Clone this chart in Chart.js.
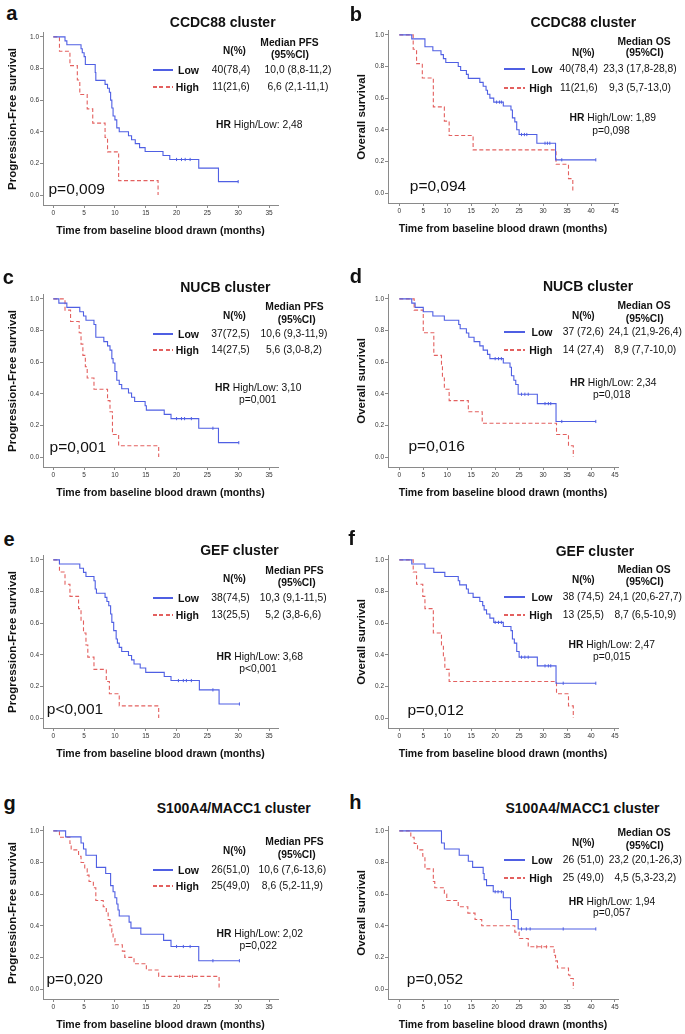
<!DOCTYPE html>
<html><head><meta charset="utf-8">
<script src="https://cdn.jsdelivr.net/npm/chart.js@4.4.1/dist/chart.umd.min.js"></script>
<style>
html,body{margin:0;padding:0;background:#fff;}
#wrap{position:relative;width:685px;height:1034px;overflow:hidden;font-family:"Liberation Sans",Arial,Helvetica,sans-serif;color:#111;}
canvas{position:absolute;}
.t{position:absolute;white-space:nowrap;line-height:1;}
.ln{position:absolute;height:2px;}
</style></head><body><div id="wrap"></div>
<script>
// ---------- tick labels ----------
const yTicks = [0, 0.2, 0.4, 0.6, 0.8, 1.0];
const pfsXTicks = [0, 5, 10, 15, 20, 25, 30, 35];
const osXTicks = [0, 5, 10, 15, 20, 25, 30, 35, 40, 45];
const groups = ['Low', 'High'];

// ---------- (a) CCDC88 PFS ----------
const pfsCCDC88Low = [[0,1],[1.9,0.975],[2.2,0.95],[4.5,0.925],[4.7,0.90],[5.0,0.875],[5.2,0.825],[6.8,0.775],[6.9,0.725],[8.4,0.70],[8.8,0.675],[9.1,0.65],[9.3,0.60],[9.5,0.55],[9.7,0.50],[10.0,0.475],[10.3,0.425],[10.7,0.40],[12.2,0.375],[12.7,0.35],[13.3,0.325],[14.0,0.30],[14.9,0.275],[17.8,0.25],[18.9,0.225],[23.6,0.17],[26.8,0.085],[30.0,0.085]];
const pfsCCDC88High = [[0,1],[1.0,0.909],[2.7,0.818],[3.9,0.727],[4.3,0.636],[5.5,0.545],[6.4,0.455],[8.4,0.364],[8.8,0.273],[10.6,0.091],[17.0,0]];
const pfsCCDC88LowCens = [[20.0,0.225],[20.8,0.225],[21.4,0.225],[22.2,0.225],[30.0,0.085]];
const pfsCCDC88HighCens = [];
// ---------- (b) CCDC88 OS ----------
const osCCDC88Low = [[0,1],[2.6,0.975],[5.35,0.925],[7.0,0.90],[8.7,0.875],[9.2,0.85],[9.7,0.825],[12.3,0.80],[12.8,0.775],[14.0,0.75],[14.4,0.725],[16.8,0.70],[17.5,0.675],[18.1,0.65],[18.4,0.625],[18.9,0.60],[19.7,0.575],[21.7,0.55],[23.3,0.525],[23.6,0.475],[24.1,0.45],[24.5,0.40],[25.0,0.37],[28.7,0.315],[32.6,0.21],[41.0,0.21]];
const osCCDC88High = [[0,1],[2.9,0.909],[3.6,0.818],[4.8,0.727],[7.1,0.545],[9.4,0.455],[10.4,0.364],[15.4,0.273],[32.7,0.182],[35.3,0.091],[36.2,0]];
const osCCDC88LowCens = [[20.3,0.575],[20.9,0.575],[21.3,0.575],[25.5,0.37],[26.1,0.37],[26.6,0.37],[30.4,0.315],[30.9,0.315],[31.4,0.315],[33.9,0.21],[41.0,0.21]];
const osCCDC88HighCens = [];
// ---------- (c) NUCB PFS ----------
const pfsNUCBLow = [[0,1],[0.9,0.973],[2.2,0.946],[4.3,0.919],[4.9,0.892],[5.3,0.865],[6.6,0.838],[6.9,0.757],[8.2,0.73],[8.8,0.703],[9.2,0.676],[9.5,0.622],[9.7,0.595],[10.0,0.541],[10.3,0.486],[10.7,0.459],[11.1,0.432],[12.2,0.405],[12.7,0.378],[13.2,0.351],[14.9,0.324],[15.1,0.297],[18.0,0.27],[19.1,0.243],[23.6,0.182],[26.8,0.091],[30.1,0.091]];
const pfsNUCBHigh = [[0,1],[1.9,0.929],[2.8,0.857],[4.2,0.786],[4.5,0.714],[4.8,0.643],[5.2,0.571],[5.5,0.50],[6.6,0.429],[8.8,0.357],[9.2,0.286],[9.6,0.143],[10.6,0.071],[17.1,0]];
const pfsNUCBLowCens = [[20.0,0.243],[20.8,0.243],[21.3,0.243],[22.4,0.243],[25.9,0.182],[30.1,0.091]];
const pfsNUCBHighCens = [];
// ---------- (d) NUCB OS ----------
const osNUCBLow = [[0,1],[2.6,0.973],[3.3,0.946],[5.0,0.919],[7.0,0.892],[9.4,0.865],[12.4,0.838],[12.7,0.811],[14.0,0.784],[14.5,0.757],[15.6,0.73],[16.8,0.703],[17.5,0.676],[18.4,0.649],[18.9,0.622],[21.7,0.595],[23.1,0.568],[23.4,0.514],[23.9,0.486],[24.3,0.459],[24.8,0.397],[28.8,0.338],[32.7,0.225],[41.0,0.225]];
const osNUCBHigh = [[0,1],[3.1,0.929],[5.0,0.786],[7.2,0.643],[8.8,0.571],[9.0,0.50],[9.4,0.429],[10.4,0.357],[14.4,0.286],[17.3,0.214],[32.8,0.143],[35.3,0.071],[36.3,0]];
const osNUCBLowCens = [[20.0,0.622],[20.7,0.622],[21.3,0.622],[25.5,0.397],[26.2,0.397],[26.9,0.397],[30.4,0.338],[31.1,0.338],[31.6,0.338],[33.9,0.225],[41.0,0.225]];
const osNUCBHighCens = [];
// ---------- (e) GEF PFS ----------
const pfsGEFLow = [[0,1],[1.0,0.974],[4.3,0.947],[4.9,0.921],[5.3,0.895],[6.6,0.868],[6.8,0.816],[7.0,0.789],[8.4,0.763],[8.7,0.737],[9.0,0.71],[9.3,0.658],[9.5,0.605],[9.8,0.553],[10.2,0.50],[10.4,0.474],[10.7,0.447],[11.1,0.421],[12.2,0.395],[12.7,0.368],[13.1,0.342],[14.1,0.316],[15.0,0.289],[18.0,0.263],[19.1,0.237],[23.7,0.178],[26.9,0.089],[30.2,0.089]];
const pfsGEFHigh = [[0,1],[1.0,0.923],[1.9,0.846],[2.7,0.769],[4.1,0.692],[4.5,0.615],[4.9,0.538],[5.3,0.462],[5.6,0.385],[6.6,0.308],[8.6,0.231],[9.1,0.154],[10.7,0.077],[17.1,0]];
const pfsGEFLowCens = [[20.3,0.237],[21.1,0.237],[21.6,0.237],[22.4,0.237],[25.9,0.178],[30.2,0.089]];
const pfsGEFHighCens = [];
// ---------- (f) GEF OS ----------
const osGEFLow = [[0,1],[2.6,0.974],[5.35,0.947],[7.2,0.921],[9.5,0.895],[12.3,0.868],[12.6,0.842],[14.0,0.816],[14.4,0.789],[15.4,0.763],[16.8,0.737],[17.4,0.711],[17.7,0.684],[18.2,0.658],[18.9,0.632],[19.7,0.605],[21.7,0.579],[23.3,0.553],[23.6,0.50],[24.0,0.474],[24.5,0.421],[25.0,0.385],[28.8,0.33],[32.7,0.22],[41.0,0.22]];
const osGEFHigh = [[0,1],[2.9,0.923],[3.6,0.846],[4.9,0.769],[5.35,0.692],[7.1,0.538],[8.8,0.462],[9.2,0.385],[9.5,0.308],[10.4,0.231],[32.8,0.154],[35.3,0.077],[36.3,0]];
const osGEFLowCens = [[20.0,0.605],[20.7,0.605],[21.3,0.605],[25.5,0.385],[26.2,0.385],[26.9,0.385],[30.4,0.33],[31.1,0.33],[31.6,0.33],[34.2,0.22],[41.0,0.22]];
const osGEFHighCens = [];
// ---------- (g) S100A4/MACC1 PFS ----------
const pfsS100Low = [[0,1],[2.0,0.962],[4.5,0.923],[4.9,0.885],[5.3,0.846],[7.0,0.769],[8.5,0.731],[9.3,0.654],[9.7,0.615],[10.0,0.577],[10.3,0.538],[10.5,0.50],[10.7,0.462],[12.3,0.423],[12.6,0.385],[14.2,0.346],[17.9,0.308],[19.1,0.269],[23.6,0.179],[30.2,0.179]];
const pfsS100High = [[0,1],[1.0,0.96],[2.7,0.92],[2.9,0.88],[4.1,0.84],[4.5,0.80],[5.1,0.76],[5.5,0.72],[5.8,0.68],[6.5,0.64],[6.9,0.56],[8.1,0.52],[8.6,0.48],[8.9,0.44],[9.2,0.40],[9.5,0.36],[9.7,0.32],[10.0,0.28],[11.2,0.24],[11.6,0.20],[13.1,0.16],[15.1,0.12],[17.1,0.08],[26.9,0]];
const pfsS100LowCens = [[20.0,0.269],[21.1,0.269],[22.2,0.269],[25.9,0.179],[30.2,0.179]];
const pfsS100HighCens = [[20.5,0.08],[22.6,0.08]];
// ---------- (h) S100A4/MACC1 OS ----------
const osS100Low = [[0,1],[8.8,0.923],[9.4,0.885],[12.5,0.846],[14.4,0.808],[15.3,0.769],[17.5,0.731],[17.7,0.692],[18.2,0.654],[19.6,0.615],[21.7,0.577],[23.2,0.50],[23.4,0.44],[24.8,0.38],[41.0,0.38]];
const osS100High = [[0,1],[2.4,0.96],[3.1,0.92],[3.8,0.88],[4.9,0.84],[5.35,0.76],[7.1,0.68],[7.4,0.64],[9.4,0.60],[9.9,0.56],[12.3,0.52],[14.3,0.48],[15.8,0.44],[17.2,0.40],[24.1,0.36],[25.0,0.32],[26.9,0.267],[32.3,0.213],[32.6,0.178],[33.0,0.133],[35.3,0.089],[35.6,0.067],[36.3,0]];
const osS100LowCens = [[20.0,0.615],[20.6,0.615],[21.3,0.615],[25.5,0.38],[26.5,0.38],[27.3,0.38],[34.2,0.38],[41.0,0.38]];
const osS100HighCens = [[28.7,0.267],[29.7,0.267],[30.7,0.267]];

// ---------- table texts ----------
const statsN = {
  a:['40(78,4)','11(21,6)'], b:['40(78,4)','11(21,6)'],
  c:['37(72,5)','14(27,5)'], d:['37 (72,6)','14 (27,4)'],
  e:['38(74,5)','13(25,5)'], f:['38 (74,5)','13 (25,5)'],
  g:['26(51,0)','25(49,0)'], h:['26 (51,0)','25 (49,0)']
};
const statsMedian = {
  a:['10,0 (8,8-11,2)','6,6 (2,1-11,1)'], b:['23,3 (17,8-28,8)','9,3 (5,7-13,0)'],
  c:['10,6 (9,3-11,9)','5,6 (3,0-8,2)'], d:['24,1 (21,9-26,4)','8,9 (7,7-10,0)'],
  e:['10,3 (9,1-11,5)','5,2 (3,8-6,6)'], f:['24,1 (20,6-27,7)','8,7 (6,5-10,9)'],
  g:['10,6 (7,6-13,6)','8,6 (5,2-11,9)'], h:['23,2 (20,1-26,3)','4,5 (5,3-23,2)']
};
const statsHR = {a:'2,48', b:'1,89', c:'3,10', d:'2,34', e:'3,68', f:'2,47', g:'2,02', h:'1,94'};
const statsPcox = {a:null, b:'p=0,098', c:'p=0,001', d:'p=0,018', e:'p<0,001', f:'p=0,015', g:'p=0,022', h:'p=0,057'};
const statsPlog = {a:'p=0,009', b:'p=0,094', c:'p=0,001', d:'p=0,016', e:'p<0,001', f:'p=0,012', g:'p=0,020', h:'p=0,052'};
const titles = {a:'CCDC88 cluster', b:'CCDC88 cluster', c:'NUCB cluster', d:'NUCB cluster', e:'GEF cluster', f:'GEF cluster', g:'S100A4/MACC1 cluster', h:'S100A4/MACC1 cluster'};

// ---------- styling / layout ----------
const F = '"Liberation Sans", Arial, Helvetica, sans-serif';
const BLUE = '#4f5fe3', RED = '#e3605f';
const axisCol = '#8a8a8a', tickCol = '#333';
const wrap = document.getElementById('wrap');

const panels = [
  {id:'a', col:0, Y1:36,    low:pfsCCDC88Low, high:pfsCCDC88High, lowC:pfsCCDC88LowCens, highC:pfsCCDC88HighCens,
   L:{letter:[11.7,12.8], title:[222.7,22], nh:[234.5,50.7], mh:[289.5,43], ci:[290,54.7], r1:70, r2:86.7, n:231, m:298, hr:[259.3,124.5], pc:null, pl:[76.7,188.5]}},
  {id:'b', col:1, Y1:34,    low:osCCDC88Low, high:osCCDC88High, lowC:osCCDC88LowCens, highC:osCCDC88HighCens,
   L:{letter:[355.8,13.5], title:[583.3,21.7], nh:[583.3,52.7], mh:[644,41.7], ci:[644.7,53.3], r1:69, r2:87.7, n:578.8, m:640, hr:[612.7,118.3], pc:[611,130.7], pl:[438,186]}},
  {id:'c', col:0, Y1:297.7, low:pfsNUCBLow, high:pfsNUCBHigh, lowC:pfsNUCBLowCens, highC:pfsNUCBHighCens,
   L:{letter:[8.3,276.8], title:[225.3,287.3], nh:[234.5,316], mh:[294.5,306.7], ci:[296.7,320], r1:334, r2:350, n:230.5, m:294, hr:[258.3,387.7], pc:[257.7,400], pl:[77.8,447.3]}},
  {id:'d', col:1, Y1:297.7, low:osNUCBLow, high:osNUCBHigh, lowC:osNUCBLowCens, highC:osNUCBHighCens,
   L:{letter:[355.8,275.5], title:[588,286], nh:[583.3,316], mh:[644,305.7], ci:[644.7,319.3], r1:331.7, r2:350, n:583.3, m:645.4, hr:[613.3,382.7], pc:[611.7,395], pl:[436.7,445.7]}},
  {id:'e', col:0, Y1:559.3, low:pfsGEFLow, high:pfsGEFHigh, lowC:pfsGEFLowCens, highC:pfsGEFHighCens,
   L:{letter:[9,538.8], title:[239.5,550], nh:[234.5,579.3], mh:[294.5,570.7], ci:[296.7,583.3], r1:598.3, r2:615, n:230.5, m:293.2, hr:[259.7,656.7], pc:[258,669.3], pl:[75,709.3]}},
  {id:'f', col:1, Y1:559.3, low:osGEFLow, high:osGEFHigh, lowC:osGEFLowCens, highC:osGEFHighCens,
   L:{letter:[351.7,537.8], title:[595,550.7], nh:[583.3,580], mh:[644,570], ci:[644.7,582.3], r1:596.7, r2:615.3, n:583.3, m:645.4, hr:[611.7,645], pc:[611.7,657.3], pl:[435.7,710]}},
  {id:'g', col:0, Y1:830,   low:pfsS100Low, high:pfsS100High, lowC:pfsS100LowCens, highC:pfsS100HighCens,
   L:{letter:[9.5,802.8], title:[233.7,807.7], nh:[234.5,851], mh:[294.5,842.3], ci:[296.7,855], r1:869.7, r2:886.3, n:230.5, m:292.4, hr:[259.7,933.7], pc:[258.3,946.3], pl:[74.7,979]}},
  {id:'h', col:1, Y1:830,   low:osS100Low, high:osS100High, lowC:osS100LowCens, highC:osS100HighCens,
   L:{letter:[355.3,801.8], title:[582.5,808.3], nh:[583.3,843.3], mh:[644,832.7], ci:[644.7,845.7], r1:860, r2:878.3, n:583.3, m:645.4, hr:[612,901.7], pc:[611.7,913.3], pl:[435,979]}}
];

function txt(x, y, content, size, bold, align, html) {
  const d = document.createElement('div');
  d.className = 't';
  if (html) d.innerHTML = content; else d.textContent = content;
  d.style.fontSize = size + 'px';
  d.style.fontWeight = bold ? 'bold' : 'normal';
  d.style.left = x + 'px';
  d.style.top = y + 'px';
  d.style.transform = align === 'right' ? 'translate(-100%,-50%)' : (align === 'left' ? 'translate(0,-50%)' : 'translate(-50%,-50%)');
  wrap.appendChild(d);
}
function legLine(x1, x2, y, color, dashed) {
  const d = document.createElement('div');
  d.className = 'ln';
  d.style.left = Math.round(x1) + 'px';
  d.style.width = Math.round(x2 - x1) + 'px';
  d.style.top = Math.round(y - 1) + 'px';
  d.style.background = dashed ? `repeating-linear-gradient(90deg, ${color} 0 4px, transparent 4px 6.5px)` : color;
  wrap.appendChild(d);
}
const toXY = arr => arr.map(([x, y]) => ({x, y}));

function buildPanel(p) {
  const isPFS = p.col === 0;
  const left = isPFS ? 0 : 340;
  const yW = isPFS ? 43 : 48;
  const xr = isPFS ? {min:-1.671, max:36.46, ticks:pfsXTicks} : {min:-2.358, max:45.63, ticks:osXTicks};
  const c = document.createElement('canvas');
  c.width = 300; c.height = 211;
  c.style.left = left + 'px'; c.style.top = (p.Y1 - 8) + 'px';
  c.style.width = '300px'; c.style.height = '211px';
  wrap.appendChild(c);
  const curve = (pts, col, dash) => ({data: toXY(pts), showLine:true, stepped:true, borderColor:col, backgroundColor:col,
    borderWidth:1.1, borderDash: dash, pointRadius:0, pointHoverRadius:0, fill:false, order:2});
  const cens = (pts, col) => ({data: toXY(pts), showLine:false, pointStyle:'line', rotation:90, pointRadius:1.6,
    pointBorderWidth:1, borderColor:col, backgroundColor:col, pointHoverRadius:0, order:1});
  new Chart(c, {
    type:'scatter',
    data:{datasets:[
      curve(p.low, BLUE, []), curve(p.high, RED, [4, 2.5]),
      cens(p.lowC, BLUE), cens(p.highC, RED)
    ]},
    options:{
      responsive:false, animation:false, events:[],
      layout:{padding:{left:0, right:22, top:4, bottom:0}},
      plugins:{legend:{display:false}, tooltip:{enabled:false}},
      scales:{
        x:{type:'linear', min:xr.min, max:xr.max,
           afterBuildTicks: s => { s.ticks = xr.ticks.map(v => ({value:v})); },
           afterFit: s => { s.height = 34; },
           grid:{display:true, drawOnChartArea:false, drawTicks:true, tickLength:3, color:axisCol, lineWidth:1},
           border:{display:true, color:axisCol, width:1},
           ticks:{font:{size:6.5, family:F}, color:tickCol, padding:1, maxRotation:0, autoSkip:false, callback: v => String(v)},
           title:{display:true, text:'Time from baseline blood drawn (months)', color:'#111',
                  font:{size:10.5, weight:'bold', family:F}, padding:{top:0, bottom:1.7}}},
        y:{type:'linear', min:-0.06289, max:1.02516,
           afterBuildTicks: s => { s.ticks = yTicks.map(v => ({value:v})); },
           afterFit: s => { s.width = yW; },
           grid:{display:true, drawOnChartArea:false, drawTicks:true, tickLength:3, color:axisCol, lineWidth:1},
           border:{display:true, color:axisCol, width:1},
           ticks:{font:{size:6.5, family:F}, color:tickCol, padding:1, autoSkip:false, callback: v => Number(v).toFixed(1)},
           title:{display:true, text: isPFS ? 'Progression-Free survival' : 'Overall survival', color:'#111',
                  font:{size:11.5, weight:'bold', family:F}, padding:{top: isPFS ? 6.4 : 14.8, bottom:0}}}
      }
    }
  });

  // texts
  const L = p.L;
  txt(L.letter[0], L.letter[1], p.id, 20, true);
  txt(L.title[0], L.title[1], titles[p.id], 14, true);
  txt(L.nh[0], L.nh[1], 'N(%)', 10, true);
  txt(L.mh[0], L.mh[1], isPFS ? 'Median PFS' : 'Median OS', 10.3, true);
  txt(L.ci[0], L.ci[1], '(95%CI)', 10.3, true);
  const lx = isPFS ? [153, 173, 199] : [504, 525, 552.5];
  legLine(lx[0], lx[1], L.r1, BLUE, false);
  legLine(lx[0], lx[1], L.r2, RED, true);
  txt(lx[2], L.r1, groups[0], 10.5, true, 'right');
  txt(lx[2], L.r2, groups[1], 10.5, true, 'right');
  txt(L.n, L.r1, statsN[p.id][0], 10.3, false);
  txt(L.n, L.r2, statsN[p.id][1], 10.3, false);
  txt(L.m, L.r1, statsMedian[p.id][0], 10.3, false);
  txt(L.m, L.r2, statsMedian[p.id][1], 10.3, false);
  txt(L.hr[0], L.hr[1], '<b>HR</b> High/Low: ' + statsHR[p.id], 10.3, false, 'center', true);
  if (L.pc && statsPcox[p.id]) txt(L.pc[0], L.pc[1], statsPcox[p.id], 10.3, false);
  txt(L.pl[0], L.pl[1], statsPlog[p.id], 15.5, false);
}
panels.forEach(buildPanel);
</script>
</body></html>
